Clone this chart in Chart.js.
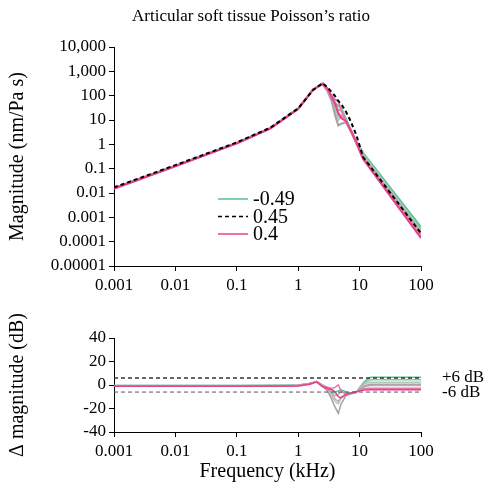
<!DOCTYPE html>
<html>
<head>
<meta charset="utf-8">
<script src="https://cdn.jsdelivr.net/npm/chart.js@4"></script>
<style>
  body { margin: 0; background: #fff; }
  #top { position: absolute; left: 0; top: 0; width: 492px; height: 300px; }
  #bottom { position: absolute; left: 0; top: 300px; width: 492px; height: 190px; }
</style>
</head>
<body>
<div id="top"><canvas id="magChart"></canvas></div>
<div id="bottom"><canvas id="deltaChart"></canvas></div>
<script>
// poisson ratios, green -> gray -> pink, plus the 0.45 reference
const ratioNames = ['-0.49', '-0.3', '-0.1', '0.1', '0.2', '0.3', '0.4'];
const ratioColors = ['#55c48e', '#86c9a2', '#b1c9b9', '#a3a3a3', '#cfa3b9', '#e27bab', '#e8408c'];
const refName = '0.45';
const legendKeys = ['-0.49', '0.45', '0.4'];
const chartTitle = 'Articular soft tissue Poisson\u2019s ratio';

const xTicks = [0.001, 0.01, 0.1, 1, 10, 100];
const xTickLabels = ['0.001', '0.01', '0.1', '1', '10', '100'];
const magTicks = [10000, 1000, 100, 10, 1, 0.1, 0.01, 0.001, 0.0001, 0.00001];
const magTickLabels = ['10,000', '1,000', '100', '10', '1', '0.1', '0.01', '0.001', '0.0001', '0.00001'];
const deltaTicks = [40, 20, 0, -20, -40];
const deltaTickLabels = ['40', '20', '0', '-20', '-40'];
const limitLines = [6, -6];
const limitLabels = ['+6 dB', '-6 dB'];

// magnitude (nm/Pa s)
const freqTop = [0.001, 0.01, 0.1, 0.35, 1, 1.75, 2.5, 3, 3.5, 4, 4.5, 5, 6, 7, 8, 9, 10, 11.4, 100];
const magRef  = [0.017, 0.14, 1.2, 4.8, 30, 170, 330, 220, 140, 95, 60, 46, 22, 10, 4.5, 2.1, 0.9, 0.3, 0.00022];
const magN049 = [0.016, 0.13, 1.15, 4.6, 30, 180, 320, 180, 95, 50, 38, 32, 11, 4.5, 2, 1.1, 0.8, 0.45, 0.0004];
const magN03  = [0.016, 0.13, 1.15, 4.6, 30, 180, 315, 170, 85, 40, 25, 28, 10, 4.5, 2, 1.05, 0.75, 0.4, 0.00033];
const magN01  = [0.016, 0.13, 1.15, 4.6, 30, 180, 310, 160, 75, 25, 10, 15, 9, 4.5, 2, 1, 0.7, 0.36, 0.00028];
const magP01  = [0.016, 0.13, 1.15, 4.6, 29, 180, 305, 150, 60, 15, 6, 7, 8, 4, 2, 1, 0.65, 0.32, 0.00024];
const magP02  = [0.016, 0.13, 1.1, 4.5, 29, 180, 300, 160, 85, 40, 15, 15, 9, 4, 2, 1, 0.6, 0.3, 0.0002];
const magP03  = [0.016, 0.13, 1.1, 4.5, 29, 180, 300, 180, 100, 70, 60, 25, 9, 4, 2, 1, 0.55, 0.27, 0.00017];
const magP04  = [0.015, 0.125, 1.1, 4.4, 28, 175, 310, 200, 90, 45, 20, 12, 9, 4.2, 2.2, 1.2, 0.55, 0.25, 0.00014];

// delta magnitude (dB)
const freqDelta = [0.001, 0.1, 0.5, 1, 1.5, 2, 2.5, 3, 3.5, 4, 4.5, 5, 6, 7, 8, 9, 10, 12, 15, 20, 100];
const dN049 = [-0.5, -0.5, -0.3, 0, 1, 3, 0, -2, -4, -6, -5, -4, -6, -7, -7, -6, -2, 3, 6.5, 6.7, 6.7];
const dN03  = [-0.5, -0.5, -0.3, 0, 1, 3, -0.5, -3, -6, -9, -8, -6, -7, -7, -7, -6, -2.5, 2, 4.5, 4.5, 4.5];
const dN01  = [-0.7, -0.7, -0.5, 0, 1, 3, -1, -4, -9, -14, -16, -11, -8, -7, -7, -6, -3, 1, 2.4, 2.4, 2.4];
const dP01  = [-0.8, -0.8, -0.6, -0.2, 1, 3, -1, -5, -12, -19, -24, -16, -9, -8, -7, -6, -3.5, -0.5, 0.7, 0.7, 0.7];
const dP02  = [-1, -1, -0.8, -0.4, 1, 3, -1, -3, -7, -12, -14, -10, -8, -7, -7, -6, -4, -1.5, -0.4, -0.4, -0.4];
const dP03  = [-1, -1, -0.8, -0.5, 1, 3, -1, -2, -3, -2, 0, -5, -8, -7, -7, -6, -4.5, -3, -2.7, -2.7, -2.7];
const dP04  = [-1, -1, -1, -0.8, 0.5, 2.5, -1.5, -3, -4, -6, -10, -11, -8, -7, -6, -5.5, -5, -4.2, -4.1, -4.1, -4.1];

const magSeries = [magN049, magN03, magN01, magP01, magP02, magP03, magP04];
const deltaSeries = [dN049, dN03, dN01, dP01, dP02, dP03, dP04];

Chart.defaults.font.family = '"Liberation Serif", "Times New Roman", serif';
Chart.defaults.font.size = 17;
Chart.defaults.color = '#000';

const toPoints = (xs, ys) => xs.map((x, i) => ({x: x, y: ys[i]}));

const axisLook = {
  grid: { display: true, drawOnChartArea: false, drawTicks: true, tickLength: 5, color: '#000' },
  border: { color: '#000', width: 1 }
};

function xAxis(extra) {
  return Object.assign({
    type: 'logarithmic',
    min: xTicks[0],
    max: xTicks[xTicks.length - 1],
    afterBuildTicks: s => { s.ticks = xTicks.map(v => ({value: v})); },
    ticks: { autoSkip: false, maxRotation: 0, padding: 4, callback: (v, i) => xTickLabels[i] },
    grid: axisLook.grid,
    border: axisLook.border
  }, extra);
}

// title centred on the whole page, legend inside the plot
const pageTitle = {
  id: 'pageTitle',
  afterDraw(chart) {
    const ctx = chart.ctx;
    ctx.save();
    ctx.fillStyle = '#000';
    ctx.font = '17px "Liberation Serif", serif';
    ctx.textAlign = 'center';
    ctx.textBaseline = 'middle';
    ctx.fillText(chartTitle, 251, 17);
    ctx.restore();
  }
};

const legendInside = {
  id: 'legendInside',
  afterDatasetsDraw(chart) {
    const ctx = chart.ctx;
    const x0 = 218, y0 = 199, rowGap = 17.5;
    legendKeys.forEach((name, i) => {
      const ds = chart.data.datasets.find(d => d.label === name);
      const y = y0 + i * rowGap;
      ctx.save();
      ctx.strokeStyle = ds.borderColor;
      ctx.lineWidth = 1.5;
      ctx.setLineDash(ds.borderDash || []);
      ctx.beginPath();
      ctx.moveTo(x0, y);
      ctx.lineTo(x0 + 30, y);
      ctx.stroke();
      ctx.setLineDash([]);
      ctx.fillStyle = '#000';
      ctx.font = '20px "Liberation Serif", serif';
      ctx.textBaseline = 'middle';
      ctx.fillText(name, x0 + 35, y + 1);
      ctx.restore();
    });
  }
};

const magSets = ratioNames.map((name, k) => ({
  label: name,
  data: toPoints(freqTop, magSeries[k]),
  borderColor: ratioColors[k],
  borderWidth: 2,
  order: ratioNames.length - k
}));
magSets.push({
  label: refName,
  data: toPoints(freqTop, magRef),
  borderColor: '#000',
  borderWidth: 2,
  borderDash: [4, 3],
  order: 0
});

new Chart(document.getElementById('magChart'), {
  type: 'line',
  data: { datasets: magSets },
  options: {
    animation: false,
    responsive: true,
    maintainAspectRatio: false,
    layout: { padding: { left: 0, right: 71, top: 47, bottom: 0 } },
    elements: { point: { radius: 0 }, line: { tension: 0 } },
    plugins: {
      legend: { display: false },
      tooltip: { enabled: false }
    },
    scales: {
      x: xAxis({ afterFit: s => { s.height = 34; } }),
      y: {
        type: 'logarithmic',
        min: magTicks[magTicks.length - 1],
        max: magTicks[0],
        afterBuildTicks: s => { s.ticks = magTicks.slice().reverse().map(v => ({value: v})); },
        ticks: { autoSkip: false, padding: 3, callback: (v, i) => magTickLabels.slice().reverse()[i] },
        title: { display: true, text: 'Magnitude (nm/Pa s)', font: { size: 20 }, padding: { top: 6, bottom: 0 } },
        grid: axisLook.grid,
        border: axisLook.border,
        afterFit: s => { s.width = 114; }
      }
    }
  },
  plugins: [legendInside, pageTitle]
});

const deltaSets = ratioNames.map((name, k) => ({
  label: name,
  data: toPoints(freqDelta, deltaSeries[k]),
  borderColor: ratioColors[k],
  borderWidth: 1.5,
  order: ratioNames.length - k + 1
}));
limitLines.forEach((v, i) => {
  deltaSets.push({
    label: limitLabels[i],
    data: [{x: xTicks[0], y: v}, {x: xTicks[xTicks.length - 1], y: v}],
    borderColor: i === 0 ? '#333' : '#555',
    borderWidth: i === 0 ? 1.5 : 1,
    borderDash: [4, 3],
    order: i
  });
});

new Chart(document.getElementById('deltaChart'), {
  type: 'line',
  data: { datasets: deltaSets },
  options: {
    animation: false,
    responsive: true,
    maintainAspectRatio: false,
    layout: { padding: { left: 0, right: 0, top: 38, bottom: 0 } },
    elements: { point: { radius: 0 }, line: { tension: 0 } },
    plugins: { legend: { display: false }, tooltip: { enabled: false } },
    scales: {
      x: xAxis({
        title: { display: true, text: 'Frequency (kHz)', font: { size: 20 }, padding: { top: 0, bottom: 6 } },
        afterFit: s => { s.height = 58; }
      }),
      y: {
        min: -40,
        max: 40,
        afterBuildTicks: s => { s.ticks = deltaTicks.slice().reverse().map(v => ({value: v})); },
        ticks: { autoSkip: false, padding: 3, callback: (v, i) => deltaTickLabels.slice().reverse()[i] },
        title: { display: true, text: '\u0394 magnitude (dB)', font: { size: 20 }, padding: { top: 6, bottom: 0 } },
        grid: axisLook.grid,
        border: axisLook.border,
        afterFit: s => { s.width = 114; }
      },
      y2: {
        position: 'right',
        min: -40,
        max: 40,
        afterBuildTicks: s => { s.ticks = limitLines.map(v => ({value: v})); },
        ticks: { autoSkip: false, padding: 21, font: { size: 17 }, callback: (v, i) => limitLabels[i] },
        grid: { display: false, drawTicks: false },
        border: { display: false },
        afterFit: s => { s.width = 71; }
      }
    }
  }
});
</script>
</body>
</html>
